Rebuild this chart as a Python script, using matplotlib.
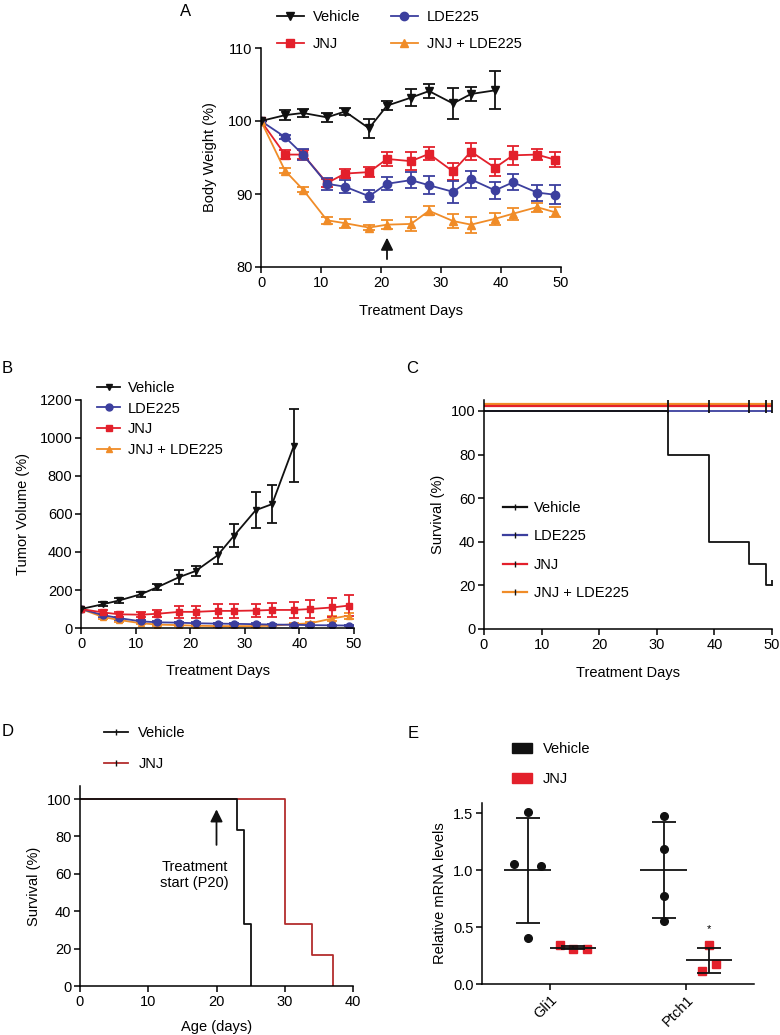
import matplotlib
matplotlib.use('Agg')
import matplotlib.pyplot as plt
from matplotlib.lines import Line2D
from matplotlib.patches import Patch

plt.rcParams['font.family'] = ['Liberation Sans', 'DejaVu Sans']
plt.rcParams['font.size'] = 10.5
plt.rcParams['axes.linewidth'] = 1.1
plt.rcParams['xtick.major.width'] = 1.1
plt.rcParams['ytick.major.width'] = 1.1
plt.rcParams['xtick.major.size'] = 4.2
plt.rcParams['ytick.major.size'] = 4.2

FS = 10.5
BLACK = '#111111'
RED = '#e3202b'
BLUE = '#3c3f9e'
ORANGE = '#f08c28'
DARKRED = '#b32d2d'

# ── data ──────────────────────────────────────────────────────────────────────
# A: body weight (%)
days_a = [0, 4, 7, 11, 14, 18, 21, 25, 28, 32, 35, 39, 42, 46, 49]
days_veh_a = days_a[:12]
bw_veh = [100, 100.8, 101.1, 100.5, 101.3, 99.0, 102.1, 103.2, 104.1, 102.4, 103.7, 104.2]
bw_veh_err = [0, 0.7, 0.5, 0.6, 0.5, 1.3, 0.6, 1.2, 1.0, 2.1, 1.0, 2.6]
bw_jnj = [100, 95.4, 95.4, 91.5, 92.8, 93.0, 94.8, 94.5, 95.5, 93.1, 95.8, 93.6, 95.3, 95.4, 94.7]
bw_jnj_err = [0, 0.6, 0.6, 0.6, 0.6, 0.7, 1.0, 1.2, 0.9, 1.2, 1.2, 1.2, 1.3, 0.8, 1.0]
bw_lde = [100, 97.8, 95.4, 91.4, 91.0, 89.7, 91.4, 91.9, 91.2, 90.3, 92.0, 90.5, 91.6, 90.2, 89.9]
bw_lde_err = [0, 0.3, 0.7, 0.8, 0.9, 0.8, 0.9, 1.1, 1.2, 1.5, 1.2, 1.2, 1.1, 1.1, 1.3]
bw_combo = [100, 93.2, 90.6, 86.4, 86.0, 85.4, 85.8, 85.9, 87.7, 86.3, 85.8, 86.6, 87.3, 88.2, 87.5]
bw_combo_err = [0, 0.3, 0.3, 0.5, 0.6, 0.3, 0.6, 0.9, 0.6, 0.9, 1.1, 0.8, 0.8, 0.6, 0.7]

# B: tumor volume (%)
tv_veh = [100, 125, 145, 178, 215, 268, 300, 382, 485, 620, 652, 960]
tv_veh_err = [0, 10, 12, 14, 15, 35, 28, 45, 60, 95, 100, 190]
tv_jnj = [100, 82, 72, 70, 75, 85, 85, 90, 90, 92, 95, 95, 100, 108, 118]
tv_jnj_err = [0, 12, 12, 14, 18, 30, 30, 35, 35, 35, 35, 40, 45, 50, 55]
tv_lde = [100, 68, 52, 35, 30, 28, 25, 23, 22, 20, 18, 17, 15, 14, 13]
tv_lde_err = [0, 8, 8, 6, 5, 5, 5, 4, 4, 4, 4, 4, 4, 4, 4]
tv_combo = [100, 58, 42, 25, 18, 15, 12, 10, 10, 10, 12, 20, 25, 50, 65]
tv_combo_err = [0, 8, 8, 6, 5, 4, 4, 4, 4, 4, 4, 6, 8, 12, 15]

# C: survival (%) over treatment days
surv_c_days_veh = [0, 32, 39, 46, 49, 50]
surv_c_veh = [100, 80, 40, 30, 20, 20]
surv_c_days = [0, 50]
surv_c_lde = [100, 100]
surv_c_jnj = [100, 100]
surv_c_combo = [100, 100]
censor_c = [32, 39, 46, 49, 50]

# D: survival (%) by age
surv_d_days_veh = [0, 23, 24, 25]
surv_d_veh = [100, 83.3, 33.3, 0]
surv_d_days_jnj = [0, 30, 34, 37]
surv_d_jnj = [100, 33.3, 16.7, 0]

# E: relative mRNA levels
genes = ['Gli1', 'Ptch1']
mrna_veh = [[1.51, 1.05, 1.04, 0.40], [1.48, 1.19, 0.77, 0.55]]
mrna_veh_mean = [1.0, 1.0]
mrna_veh_sd = [0.46, 0.42]
mrna_jnj = [[0.34, 0.31, 0.31], [0.34, 0.18, 0.11]]
mrna_jnj_mean = [0.32, 0.21]
mrna_jnj_sd = [0.01, 0.11]

W, H = 780, 1035
fig = plt.figure(figsize=(W / 100, H / 100), dpi=100)


def px_axes(left, top, right, bottom):
    return fig.add_axes([left / W, 1 - bottom / H, (right - left) / W, (bottom - top) / H])


def fpos(x, y):
    return (x / W, 1 - y / H)


def clean(ax):
    ax.spines['top'].set_visible(False)
    ax.spines['right'].set_visible(False)
    ax.tick_params(direction='out', labelsize=FS, pad=2)


LEG = dict(loc='upper left', frameon=False, borderpad=0, borderaxespad=0, fontsize=FS)
EB = dict(linewidth=1.3, elinewidth=1.3, capsize=4, capthick=1.3)

# ── A. Body weight ────────────────────────────────────────────────────────────
ax = px_axes(261, 48, 561, 267)
ax.errorbar(days_a, bw_jnj, yerr=bw_jnj_err, color=RED, marker='s', ms=5.5, **EB)
ax.errorbar(days_a, bw_lde, yerr=bw_lde_err, color=BLUE, marker='o', ms=6, **EB)
ax.errorbar(days_a, bw_combo, yerr=bw_combo_err, color=ORANGE, marker='^', ms=6, **EB)
ax.errorbar(days_veh_a, bw_veh, yerr=bw_veh_err, color=BLACK, marker='v', ms=6, **EB)
ax.annotate('', xy=(21, 84.4), xytext=(21, 80.7),
            arrowprops=dict(arrowstyle='-|>,head_length=0.7,head_width=0.35', color=BLACK, lw=1.3))
ax.set_xlim(0, 50); ax.set_ylim(80, 110)
ax.set_xticks(range(0, 51, 10)); ax.set_yticks([80, 90, 100, 110])
ax.set_xlabel('Treatment Days', labelpad=10)
ax.set_ylabel('Body Weight (%)', labelpad=8)
clean(ax)
hA = [Line2D([], [], color=BLACK, marker='v', ms=6, lw=1.3),
      Line2D([], [], color=RED, marker='s', ms=5.5, lw=1.3),
      Line2D([], [], color=BLUE, marker='o', ms=6, lw=1.3),
      Line2D([], [], color=ORANGE, marker='^', ms=6, lw=1.3)]
fig.legend(hA, ['Vehicle', 'JNJ', 'LDE225', 'JNJ + LDE225'], ncol=2,
           bbox_to_anchor=fpos(277, 10), handlelength=1.85, handletextpad=0.6,
           labelspacing=0.9, columnspacing=2.1, **LEG)
fig.text(*fpos(180, 12), 'A', fontsize=12, va='center', ha='left')

# ── B. Tumor volume ───────────────────────────────────────────────────────────
EBs = dict(linewidth=1.3, elinewidth=1.3, capsize=3.5, capthick=1.3)
ax = px_axes(81, 400, 354, 628)
ax.errorbar(days_a, tv_combo, yerr=tv_combo_err, color=ORANGE, marker='^', ms=5, **EBs)
ax.errorbar(days_a, tv_lde, yerr=tv_lde_err, color=BLUE, marker='o', ms=5, **EBs)
ax.errorbar(days_a, tv_jnj, yerr=tv_jnj_err, color=RED, marker='s', ms=5, **EBs)
ax.errorbar(days_veh_a, tv_veh, yerr=tv_veh_err, color=BLACK, marker='v', ms=5, **EBs)
ax.set_xlim(0, 50); ax.set_ylim(0, 1200)
ax.set_xticks(range(0, 51, 10)); ax.set_yticks(range(0, 1201, 200))
ax.set_xlabel('Treatment Days', labelpad=10)
ax.set_ylabel('Tumor Volume (%)', labelpad=7)
clean(ax)
hB = [Line2D([], [], color=BLACK, marker='v', ms=5, lw=1.3),
      Line2D([], [], color=BLUE, marker='o', ms=5, lw=1.3),
      Line2D([], [], color=RED, marker='s', ms=5, lw=1.3),
      Line2D([], [], color=ORANGE, marker='^', ms=5, lw=1.3)]
fig.legend(hB, ['Vehicle', 'LDE225', 'JNJ', 'JNJ + LDE225'],
           bbox_to_anchor=fpos(97, 381), handlelength=1.6, handletextpad=0.5,
           labelspacing=0.45, **LEG)
fig.text(*fpos(2, 368), 'B', fontsize=12, va='center', ha='left')

# ── C. Survival over treatment ────────────────────────────────────────────────
ax = px_axes(484, 400, 772, 629)
off = [0, 2.1, 3.1]  # small visual offsets so overlapping lines stay visible
ax.step(surv_c_days, [v + off[2] for v in surv_c_combo], where='post', color=ORANGE, lw=1.6)
ax.step(surv_c_days, [v + off[1] for v in surv_c_jnj], where='post', color=RED, lw=1.6)
ax.step(surv_c_days, [v + off[0] for v in surv_c_lde], where='post', color=BLUE, lw=1.3)
ax.step(surv_c_days_veh, surv_c_veh, where='post', color=BLACK, lw=1.3)
ax.plot(censor_c, [102.3] * len(censor_c), ls='none', marker='|', ms=10, mew=1.3, color=BLACK)
ax.plot([50], [21], ls='none', marker='|', ms=4, mew=1.3, color=BLACK)
ax.set_xlim(0, 50); ax.set_ylim(0, 105)
ax.set_xticks(range(0, 51, 10)); ax.set_yticks(range(0, 101, 20))
ax.set_xlabel('Treatment Days', labelpad=10)
ax.set_ylabel('Survival (%)', labelpad=4)
clean(ax)
hC = [Line2D([], [], color=c, lw=1.6, marker='|', ms=4, mew=1, mec=BLACK)
      for c in [BLACK, BLUE, RED, ORANGE]]
ax.legend(hC, ['Vehicle', 'LDE225', 'JNJ', 'JNJ + LDE225'],
          bbox_to_anchor=fpos(503, 501), bbox_transform=fig.transFigure,
          handlelength=1.65, handletextpad=0.45, labelspacing=0.99, **LEG)
fig.text(*fpos(406, 368), 'C', fontsize=12, va='center', ha='left')

# ── D. Survival by age ────────────────────────────────────────────────────────
ax = px_axes(80, 786, 353, 986)
ax.step(surv_d_days_jnj, surv_d_jnj, where='post', color=DARKRED, lw=1.3)
ax.step(surv_d_days_veh, surv_d_veh, where='post', color=BLACK, lw=1.3)
ax.annotate('', xy=(20, 96), xytext=(20, 74),
            arrowprops=dict(arrowstyle='-|>,head_length=0.7,head_width=0.35', color=BLACK, lw=1.3))
ax.text(16.8, 59.5, 'Treatment\nstart (P20)', ha='center', va='center', fontsize=FS,
        linespacing=1.15)
ax.set_xlim(0, 40); ax.set_ylim(0, 107)
ax.set_xticks(range(0, 41, 10)); ax.set_yticks(range(0, 101, 20))
ax.set_xlabel('Age (days)', labelpad=8)
ax.set_ylabel('Survival (%)', labelpad=4)
clean(ax)
hD = [Line2D([], [], color=c, lw=1.3, marker='|', ms=4, mew=1, mec=BLACK)
      for c in [BLACK, DARKRED]]
fig.legend(hD, ['Vehicle', 'JNJ'], bbox_to_anchor=fpos(104, 726),
           handlelength=1.65, handletextpad=0.7, labelspacing=1.17, **LEG)
fig.text(*fpos(2, 732), 'D', fontsize=12, va='center', ha='left')

# ── E. mRNA levels ────────────────────────────────────────────────────────────
ax = px_axes(482, 803, 754, 984)
jit_v = [[0, -0.1, 0.1, 0], [0, 0, 0, 0]]
jit_j = [[-0.1, 0, 0.1], [0, 0.05, -0.05]]
for i, g in enumerate(genes):
    xv, xj = i - 0.165, i + 0.17
    ax.plot([xv + d for d in jit_v[i]], mrna_veh[i], 'o', color=BLACK, ms=5.5, zorder=3)
    ax.plot([xj + d for d in jit_j[i]], mrna_jnj[i], 's', color=RED, ms=5.5, zorder=3)
    ax.hlines(mrna_veh_mean[i], xv - 0.17, xv + 0.17, color=BLACK, lw=1.3, zorder=4)
    ax.hlines(mrna_jnj_mean[i], xj - 0.17, xj + 0.17, color=BLACK, lw=1.3, zorder=4)
    ax.errorbar(xv, mrna_veh_mean[i], yerr=mrna_veh_sd[i], color=BLACK, lw=1.3,
                capsize=8.5, capthick=1.3, zorder=4)
    ax.errorbar(xj, mrna_jnj_mean[i], yerr=mrna_jnj_sd[i], color=BLACK, lw=1.3,
                capsize=8.5, capthick=1.3, zorder=4)
ax.text(1.17, 0.44, '*', ha='center', va='bottom', fontsize=8)
ax.set_xlim(-0.5, 1.5); ax.set_ylim(0, 1.59)
ax.set_xticks([0, 1]); ax.set_xticklabels(genes, rotation=45, ha='right', rotation_mode='anchor')
ax.set_yticks([0, 0.5, 1.0, 1.5]); ax.set_yticklabels(['0.0', '0.5', '1.0', '1.5'])
ax.set_ylabel('Relative mRNA levels', labelpad=4)
clean(ax)
hE = [Patch(color=BLACK), Patch(color=RED)]
fig.legend(hE, ['Vehicle', 'JNJ'], bbox_to_anchor=fpos(512, 742),
           handlelength=1.37, handleheight=0.7, handletextpad=0.75, labelspacing=1.1, **LEG)
fig.text(*fpos(408, 733), 'E', fontsize=12, va='center', ha='left')

plt.savefig('out.png', dpi=100)
